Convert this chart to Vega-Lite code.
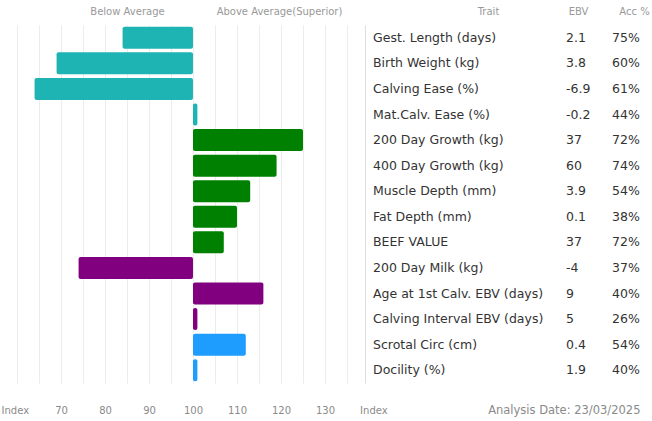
{
  "$schema": "https://vega.github.io/schema/vega-lite/v6.json",
  "width": 652,
  "height": 358,
  "autosize": {"type": "none"},
  "padding": {"top": 25, "left": 0, "right": 0, "bottom": 38},
  "background": "white",
  "config": {"view": {"stroke": null}, "font": "DejaVu Sans"},
  "data": {
    "values": [
      {"trait": "Gest. Length (days)", "ebv": "2.1", "acc": "75%", "index": 84, "group": "calving"},
      {"trait": "Birth Weight (kg)", "ebv": "3.8", "acc": "60%", "index": 69, "group": "calving"},
      {"trait": "Calving Ease (%)", "ebv": "-6.9", "acc": "61%", "index": 64, "group": "calving"},
      {"trait": "Mat.Calv. Ease (%)", "ebv": "-0.2", "acc": "44%", "index": 101, "group": "calving"},
      {"trait": "200 Day Growth (kg)", "ebv": "37", "acc": "72%", "index": 125, "group": "growth"},
      {"trait": "400 Day Growth (kg)", "ebv": "60", "acc": "74%", "index": 119, "group": "growth"},
      {"trait": "Muscle Depth (mm)", "ebv": "3.9", "acc": "54%", "index": 113, "group": "growth"},
      {"trait": "Fat Depth (mm)", "ebv": "0.1", "acc": "38%", "index": 110, "group": "growth"},
      {"trait": "BEEF VALUE", "ebv": "37", "acc": "72%", "index": 107, "group": "growth"},
      {"trait": "200 Day Milk (kg)", "ebv": "-4", "acc": "37%", "index": 74, "group": "maternal"},
      {"trait": "Age at 1st Calv. EBV (days)", "ebv": "9", "acc": "40%", "index": 116, "group": "maternal"},
      {"trait": "Calving Interval EBV (days)", "ebv": "5", "acc": "26%", "index": 101, "group": "maternal"},
      {"trait": "Scrotal Circ (cm)", "ebv": "0.4", "acc": "54%", "index": 112, "group": "other"},
      {"trait": "Docility (%)", "ebv": "1.9", "acc": "40%", "index": 101, "group": "other"}
    ]
  },
  "layer": [
    {
      "mark": {"type": "bar", "cornerRadius": 2},
      "encoding": {
        "y": {"field": "trait", "type": "nominal", "sort": null, "scale": {"paddingInner": 0.14, "paddingOuter": 0.07}, "axis": null},
        "x": {
          "field": "index",
          "type": "quantitative",
          "scale": {"domain": [56.14, 204.32], "nice": false, "zero": false},
          "axis": {
            "values": [59.5, 60, 65, 70, 75, 80, 85, 90, 95, 100, 105, 110, 115, 120, 125, 130, 135, 141],
            "labelExpr": "(datum.value == 59.5 || datum.value == 141) ? 'Index' : ((datum.value % 10 == 0 && datum.value >= 70 && datum.value <= 130) ? datum.label : '')",
            "grid": true,
            "gridColor": "#ececec",
            "gridOpacity": {"condition": {"test": "datum.value == 59.5 || datum.value == 141", "value": 0}, "value": 1},
            "domain": false,
            "ticks": false,
            "labelOverlap": false,
            "labelFlush": false,
            "labelBound": false,
            "labelColor": "#8a8a8a",
            "labelFontSize": 10,
            "labelPadding": 22,
            "title": "Analysis Date: 23/03/2025",
            "titleColor": "#8a8a8a",
            "titleFontSize": 11.5,
            "titleFontWeight": "normal",
            "titleAlign": "right",
            "titleBaseline": "middle",
            "titleAnchor": null,
            "titleX": 640,
            "titleY": 27
          }
        },
        "x2": {"datum": 100},
        "color": {
          "field": "group",
          "type": "nominal",
          "scale": {"domain": ["calving", "growth", "maternal", "other"], "range": ["#1fb4b4", "#008000", "#800080", "#1f9dff"]},
          "legend": null
        }
      }
    },
    {
      "layer": [
        {
          "mark": {"type": "text", "align": "left", "baseline": "middle", "fontSize": 12.5, "color": "#333333"},
          "encoding": {
            "y": {"field": "trait", "type": "nominal", "sort": null},
            "x": {
              "datum": 3,
              "type": "quantitative",
              "scale": {"domain": [0, 1, 2, 3, 4, 5, 6, 7, 8], "range": [127, 279, 365, 373, 488, 566, 578, 612, 634], "nice": false, "zero": false},
              "axis": {
                "orient": "top",
                "values": [0, 1, 2, 4, 6, 8],
                "labelExpr": "['Below Average', 'Above Average(Superior)', '', '', 'Trait', '', 'EBV', '', 'Acc %'][datum.value]",
                "grid": true,
                "gridColor": "#dddddd",
                "gridOpacity": {"condition": {"test": "datum.value == 2", "value": 1}, "value": 0},
                "domain": false,
                "ticks": false,
                "labelOverlap": false,
                "labelFlush": false,
                "labelBound": false,
                "labelColor": "#999999",
                "labelFontSize": 10,
                "labelPadding": 9,
                "title": null
              }
            },
            "text": {"field": "trait"}
          }
        },
        {
          "mark": {"type": "text", "align": "left", "baseline": "middle", "fontSize": 12.5, "color": "#333333"},
          "encoding": {
            "y": {"field": "trait", "type": "nominal", "sort": null},
            "x": {"datum": 5, "type": "quantitative"},
            "text": {"field": "ebv"}
          }
        },
        {
          "mark": {"type": "text", "align": "left", "baseline": "middle", "fontSize": 12.5, "color": "#333333"},
          "encoding": {
            "y": {"field": "trait", "type": "nominal", "sort": null},
            "x": {"datum": 7, "type": "quantitative"},
            "text": {"field": "acc"}
          }
        }
      ]
    }
  ],
  "resolve": {"scale": {"x": "independent"}}
}
